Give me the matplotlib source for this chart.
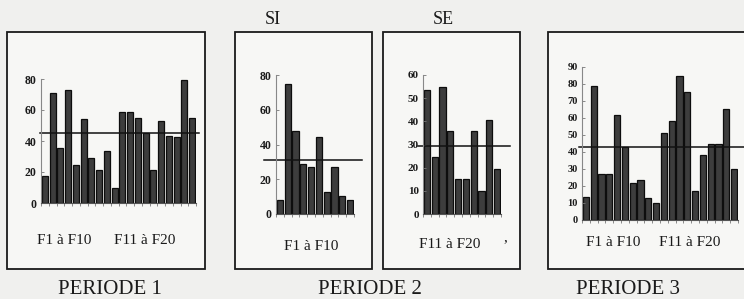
import matplotlib
matplotlib.use("Agg")
import matplotlib.pyplot as plt
from matplotlib.patches import Rectangle

plt.rcParams['font.family'] = ['Liberation Serif', 'DejaVu Serif']

# values
p1_values = [17.5, 71, 35.5, 73, 24.5, 54.5, 29, 21, 33.5, 10,
             59, 59, 55, 45, 21, 53, 43, 42.5, 79.5, 55]
p1_mean = 45

si_values = [8, 75, 47.5, 29, 27, 44.5, 12.5, 27, 10.5, 8]
si_mean = 31

se_values = [53.5, 24.5, 55, 36, 15, 15, 36, 10, 40.5, 19.5]
se_mean = 29.5

p3_values = [13.5, 78.5, 27, 27, 61.5, 43, 21.5, 23.5, 12.5, 10,
             51, 58, 84.5, 75, 17, 38, 44.5, 44.5, 65, 30]
p3_mean = 43

periods = ['PERIODE 1', 'PERIODE 2', 'PERIODE 3']
groups = ['SI', 'SE']

W, H = 744, 299
fig = plt.figure(figsize=(W / 100, H / 100), dpi=100)
fig.patch.set_facecolor('#f0f0ee')


def fx(x):
    return x / W


def fy(y):
    return 1 - y / H


# panel frames (behind the axes)
for x0, x1 in [(7, 205), (235, 372), (383, 520), (548, 746)]:
    fig.patches.append(Rectangle((fx(x0), fy(269)), fx(x1 - x0), (269 - 32) / H,
                                 transform=fig.transFigure, facecolor='#f7f7f5',
                                 edgecolor='#1a1a1a', linewidth=1.3, zorder=-5))


def bar_panel(values, mean, ymax, step, left, right, base, top, line_x, fs):
    ax = fig.add_axes([fx(left), fy(base), fx(right - left), (base - top) / H])
    ax.set_zorder(2)
    ax.patch.set_alpha(0)
    n = len(values)
    ax.bar(range(n), values, width=0.8, color='#3d3d3d', edgecolor='#0d0d0d',
           linewidth=0.9)
    ax.set_xlim(-0.5, n - 0.5)
    ax.set_ylim(0, ymax)
    # mean line, a bit wider than the bars
    xmin = (line_x[0] - left) / (right - left)
    xmax = (line_x[1] - left) / (right - left)
    ax.axhline(mean, xmin=xmin, xmax=xmax, color='#111111', linewidth=1.1,
               clip_on=False)
    ax.set_yticks(range(0, ymax + 1, step))
    ax.set_xticks([i - 0.5 for i in range(n + 1)])
    ax.set_xticklabels([])
    ax.tick_params(axis='y', direction='in', length=2, width=0.6, pad=3,
                   labelsize=fs, colors='#777777', labelcolor='#1a1a1a')
    for t in ax.get_yticklabels():
        t.set_fontweight('bold')
    ax.tick_params(axis='x', direction='out', length=2.5, width=0.6,
                   colors='#777777')
    for s in ['top', 'right']:
        ax.spines[s].set_visible(False)
    ax.spines['left'].set_color('#888888')
    ax.spines['left'].set_linewidth(0.8)
    ax.spines['bottom'].set_color('#555555')
    ax.spines['bottom'].set_linewidth(0.8)
    return ax


bar_panel(p1_values, p1_mean, 80, 20, 41, 196, 203, 79, (40, 199), 8.5)
bar_panel(si_values, si_mean, 80, 20, 276, 354, 214, 75, (264, 362), 8.5)
bar_panel(se_values, se_mean, 60, 10, 423, 501, 214, 75, (418, 510), 8)
bar_panel(p3_values, p3_mean, 90, 10, 582, 738, 219.5, 67, (579, 744), 7.5)

# group labels under the bars
lab = dict(fontsize=11, color='#1a1a1a', ha='center', va='center')
fig.text(fx(64), fy(241), 'F1 à F10', **lab)
fig.text(fx(145), fy(241), 'F11 à F20', **lab)
fig.text(fx(311), fy(246), 'F1 à F10', **lab)
fig.text(fx(450), fy(245), 'F11 à F20', **lab)
fig.text(fx(505), fy(238), ',', **lab)
fig.text(fx(613), fy(242), 'F1 à F10', **lab)
fig.text(fx(690), fy(242), 'F11 à F20', **lab)

# SI / SE headers
fig.text(fx(273), fy(19), groups[0], fontsize=13, ha='center', va='center',
         color='#1a1a1a')
fig.text(fx(443), fy(19), groups[1], fontsize=13, ha='center', va='center',
         color='#1a1a1a')

# period titles
for x, t in zip([110, 370, 628], periods):
    fig.text(fx(x), fy(289), t, fontsize=15, ha='center', va='center',
             color='#1a1a1a')

fig.savefig('out.png', dpi=100, facecolor=fig.get_facecolor())
